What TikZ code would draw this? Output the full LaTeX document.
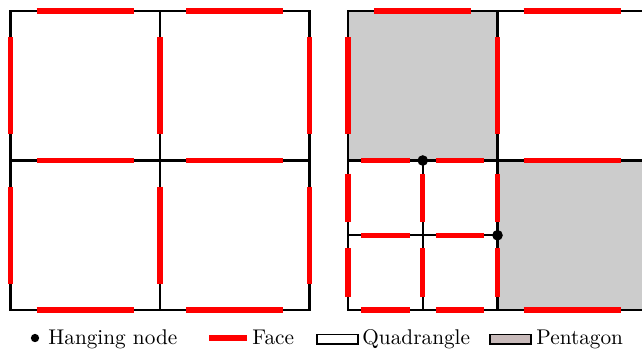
\documentclass[tikz,border=0pt]{standalone}
\usetikzlibrary{calc}
\definecolor{cellgray}{RGB}{204,204,204}
\definecolor{pentgray}{RGB}{200,186,186}
\tikzset{
  mesh/.style={black, line width=1.05pt},
  face/.style={red, line width=2.4pt},
  hanging/.style={circle, fill=black, inner sep=0, minimum size=5pt},
  legtext/.style={anchor=base west, inner sep=0},
}
\newcommand{\faceseg}[2]{\draw[face] ($(#1)!.175!(#2)$) -- ($(#1)!.825!(#2)$);}

\begin{document}
\begin{tikzpicture}[x=0.47pt, y=-0.47pt]
\useasboundingbox (0,0) rectangle (642,350);
\clip (0,0) rectangle (642,350);

% left mesh: 2x2 quadrangles
\foreach \i in {0,1,2}
  \foreach \j in {0,1,2}
    \coordinate (l\i\j) at ({10.5+149.5*\i},{11+149.5*\j});

\draw[mesh] (l00) rectangle (l22);
\draw[mesh] (l10) -- (l12);
\draw[mesh] (l01) -- (l21);

\foreach \i in {0,1,2}
  \foreach \j/\k in {0/1,1/2} {
    \faceseg{l\i\j}{l\i\k}
    \faceseg{l\j\i}{l\k\i}
  }

% right mesh: refined corner, pentagons
\foreach \i in {0,...,4}
  \foreach \j in {0,...,4}
    \coordinate (r\i\j) at ({348+74.75*\i},{11+74.75*\j});

\fill[cellgray] (r00) rectangle (r22);
\fill[cellgray] (r22) rectangle (r44);

\draw[mesh] (r00) rectangle (r44);
\draw[mesh] (r20) -- (r24);
\draw[mesh] (r02) -- (r42);
\draw[mesh] (r12) -- (r14);
\draw[mesh] (r03) -- (r23);

\faceseg{r00}{r20}
\faceseg{r20}{r40}
\faceseg{r00}{r02}
\faceseg{r20}{r22}
\faceseg{r40}{r42}
\faceseg{r22}{r42}
\faceseg{r24}{r44}
\faceseg{r42}{r44}

\foreach \i in {0,1,2}
  \foreach \j/\k in {2/3,3/4} {
    \faceseg{r\i\j}{r\i\k}
  }
\foreach \j in {2,3,4}
  \foreach \i/\k in {0/1,1/2} {
    \faceseg{r\i\j}{r\k\j}
  }

\node[hanging] (h1) at (r12) {};
\node[hanging] (h2) at (r23) {};

% legend
\node[hanging, minimum size=3.9pt] (ldot) at (35,338) {};
\node[legtext] (lhang) at (48,344) {Hanging node};

\coordinate (lf1) at (209,338);
\coordinate (lf2) at (247,338);
\draw[face] (lf1) -- (lf2);
\node[legtext] (lface) at (252,344) {Face};

\draw[black, line width=0.5pt, fill=white] (317,334.5) rectangle (358,344);
\node[legtext] (lquad) at (362,344) {Quadrangle};

\draw[black, line width=0.5pt, fill=pentgray] (490,334.5) rectangle (531,344);
\node[legtext] (lpent) at (536,344) {Pentagon};

\end{tikzpicture}
\end{document}
